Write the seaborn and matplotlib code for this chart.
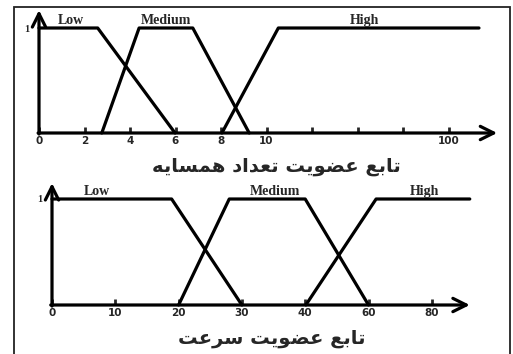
import numpy as np
import pandas as pd
import matplotlib
matplotlib.use("Agg")
import matplotlib.pyplot as plt
import seaborn as sns
from matplotlib.patches import Rectangle

# neighbour-count membership (x in tick-slot units, ticks labelled below)
nb_ticks = [0, 1, 2, 3, 4, 5, 6, 7, 8, 9]
nb_tick_labels = ["0", "2", "4", "6", "8", "10", "", "", "", "100"]
nb_low_x = [0, 1.29, 2.99]
nb_low_y = [1, 1, 0]
nb_med_x = [1.38, 2.20, 3.38, 4.62]
nb_med_y = [0, 1, 1, 0]
nb_high_x = [4.02, 5.26, 9.67]
nb_high_y = [0, 1, 1]

# speed membership
sp_ticks = [0, 1, 2, 3, 4, 5, 6]
sp_tick_labels = ["0", "10", "20", "30", "40", "60", "80"]
sp_low_x = [0, 1.89, 3.0]
sp_low_y = [1, 1, 0]
sp_med_x = [2.0, 2.80, 4.0, 5.0]
sp_med_y = [0, 1, 1, 0]
sp_high_x = [4.01, 5.12, 6.6]
sp_high_y = [0, 1, 1]

set_names = ["Low", "Medium", "High"]
title_nb = "تابع عضویت تعداد همسایه"
title_sp = "تابع عضویت سرعت"

# --- minimal arabic shaping so matplotlib shows joined letters ---
FORMS = {
    "ا": ("\uFE8D", "\uFE8E", None, None),
    "ب": ("\uFE8F", "\uFE90", "\uFE91", "\uFE92"),
    "ت": ("\uFE95", "\uFE96", "\uFE97", "\uFE98"),
    "د": ("\uFEA9", "\uFEAA", None, None),
    "ر": ("\uFEAD", "\uFEAE", None, None),
    "س": ("\uFEB1", "\uFEB2", "\uFEB3", "\uFEB4"),
    "ض": ("\uFEBD", "\uFEBE", "\uFEBF", "\uFEC0"),
    "ع": ("\uFEC9", "\uFECA", "\uFECB", "\uFECC"),
    "م": ("\uFEE1", "\uFEE2", "\uFEE3", "\uFEE4"),
    "ه": ("\uFEE9", "\uFEEA", "\uFEEB", "\uFEEC"),
    "و": ("\uFEED", "\uFEEE", None, None),
    "ی": ("\uFBFC", "\uFBFD", "\uFBFE", "\uFBFF"),
}


def shape(text):
    out = []
    for i, ch in enumerate(text):
        if ch not in FORMS:
            out.append(ch)
            continue
        prev = text[i - 1] if i > 0 else " "
        nxt = text[i + 1] if i + 1 < len(text) else " "
        j_prev = prev in FORMS and FORMS[prev][2] is not None
        j_next = FORMS[ch][2] is not None and nxt in FORMS
        iso, fin, ini, med = FORMS[ch]
        if j_prev and j_next:
            out.append(med)
        elif j_prev:
            out.append(fin)
        elif j_next:
            out.append(ini)
        else:
            out.append(iso)
    return "".join(out)[::-1]


sns.set_style("white")
plt.rcParams["font.family"] = ["DejaVu Sans"]

W, H = 513, 354
fig = plt.figure(figsize=(W / 100, H / 100), dpi=100)


def make_axes(ox, oy, sx, sy, xlim, ylim):
    left = ox + xlim[0] * sx
    right = ox + xlim[1] * sx
    top = oy - ylim[1] * sy
    bottom = oy - ylim[0] * sy
    ax = fig.add_axes([left / W, 1 - bottom / H, (right - left) / W, (bottom - top) / H])
    ax.set_xlim(xlim)
    ax.set_ylim(ylim)
    ax.patch.set_alpha(0)
    return ax


def draw_panel(ax, series, ticks, labels, x_end, y_end, name_pos):
    for (xs, ys) in series:
        df = pd.DataFrame({"x": xs, "y": ys})
        sns.lineplot(data=df, x="x", y="y", ax=ax, color="black", lw=2.3,
                     sort=False, estimator=None)
    for sp in ["top", "right"]:
        ax.spines[sp].set_visible(False)
    ax.spines["bottom"].set_position(("data", 0))
    ax.spines["left"].set_position(("data", 0))
    ax.spines["bottom"].set_color("none")
    ax.spines["left"].set_color("none")
    ax.set_xticks(ticks, labels)
    ax.set_yticks([1], ["1"])
    ax.tick_params(axis="x", direction="in", length=4, width=2, pad=2.5,
                   labelsize=7.5, bottom=True)
    ax.tick_params(axis="y", length=0, pad=7, labelsize=7.5, left=True)
    for t in ax.get_xticklabels():
        t.set_fontweight("bold")
    for t in ax.get_yticklabels():
        t.set_fontweight("bold")
        t.set_family("Liberation Serif")
    ax.set_xlabel("")
    ax.set_ylabel("")
    arrow = dict(arrowstyle="->,head_length=0.6,head_width=0.3", lw=2.3,
                 color="black", mutation_scale=16, shrinkA=0, shrinkB=0)
    ax.annotate("", xy=(x_end, 0), xytext=(-0.02, 0), arrowprops=arrow)
    ax.annotate("", xy=(0, y_end), xytext=(0, -0.01), arrowprops=arrow)
    for name, (px, py) in zip(set_names, name_pos):
        ax.text(px, py, name, ha="center", va="bottom", fontsize=10,
                fontweight="bold", family="Liberation Serif")


ax1 = make_axes(39, 133, 45.5, 105, (-0.5, 10.3), (-0.2, 1.25))
draw_panel(ax1, [(nb_low_x, nb_low_y), (nb_med_x, nb_med_y), (nb_high_x, nb_high_y)],
           nb_ticks, nb_tick_labels, 10.07, 1.17,
           [(0.70, 1.01), (2.79, 1.01), (7.16, 1.01)])

ax2 = make_axes(52, 305, 63.3, 106, (-0.4, 6.8), (-0.2, 1.25))
draw_panel(ax2, [(sp_low_x, sp_low_y), (sp_med_x, sp_med_y), (sp_high_x, sp_high_y)],
           sp_ticks, sp_tick_labels, 6.6, 1.15,
           [(0.71, 1.01), (3.52, 1.01), (5.88, 1.01)])

fig.text(276 / W, 1 - 167 / H, shape(title_nb), ha="center", va="center",
         fontsize=14, fontweight="bold")
fig.text(272 / W, 1 - 338 / H, shape(title_sp), ha="center", va="center",
         fontsize=14, fontweight="bold")

# outer frame
fig.patches.append(Rectangle((14 / W, -0.01), (510 - 14) / W, 1 - 7 / H + 0.01,
                             transform=fig.transFigure, fill=False,
                             edgecolor="#222222", lw=1.3))

fig.savefig("out.png", dpi=100)
